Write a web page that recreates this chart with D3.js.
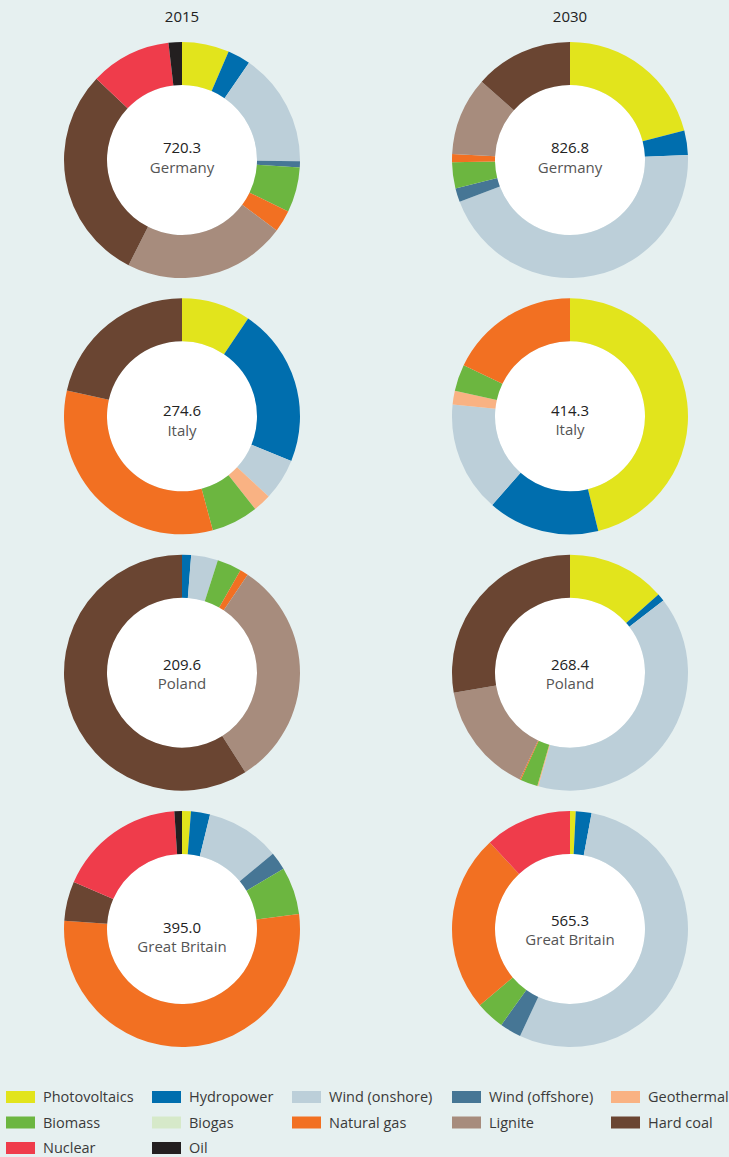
<!DOCTYPE html>
<html>
<head>
<meta charset="utf-8">
<script src="https://cdn.jsdelivr.net/npm/d3@7"></script>
<style>
  html, body { margin: 0; padding: 0; background: #e6f0f0; }
  svg { display: block; font-family: "Open Sans", sans-serif; }
</style>
</head>
<body>
<svg id="chart" width="729" height="1157"></svg>
<script>
// energy sources, clockwise order from 12 o'clock
const sources = ['Photovoltaics', 'Hydropower', 'Wind (onshore)', 'Wind (offshore)', 'Geothermal',
                 'Biomass', 'Biogas', 'Natural gas', 'Lignite', 'Hard coal', 'Nuclear', 'Oil'];
const years = ['2015', '2030'];
const countries = ['Germany', 'Italy', 'Poland', 'Great Britain'];
const totals2015 = ['720.3', '274.6', '209.6', '395.0'];
const totals2030 = ['826.8', '414.3', '268.4', '565.3'];

// generation per source (TWh), same order as sources
const germany2015 = [46.6, 22.6, 112.0, 6.2, 0, 44.4, 0, 21.6, 160.7, 213.3, 79.8, 13.2];
const germany2030 = [173.6, 27.6, 371.4, 15.6, 0, 29.4, 0, 9.2, 88.9, 111.2, 0, 0];
const italy2015   = [26.0, 59.6, 15.7, 0, 6.8, 17.7, 0, 89.9, 0, 59.0, 0, 0];
const italy2030   = [191.2, 63.4, 62.7, 0, 7.9, 15.1, 0, 74.0, 0, 0, 0, 0];
const poland2015  = [0, 2.6, 7.7, 0, 0, 7.0, 0, 2.4, 66.2, 123.7, 0, 0];
const poland2030  = [36.2, 2.8, 106.8, 0, 0.4, 6.4, 0, 0.4, 41.0, 74.4, 0, 0];
const britain2015 = [4.8, 10.3, 40.2, 9.8, 0, 25.7, 0, 209.9, 0, 21.4, 68.9, 4.1];
const britain2030 = [4.4, 12.2, 305.3, 16.6, 0, 22.3, 0, 137.2, 0, 0, 67.2, 0];

const values2015 = [germany2015, italy2015, poland2015, britain2015];
const values2030 = [germany2030, italy2030, poland2030, britain2030];

const palette = ['#e2e41c', '#006eae', '#bccfd9', '#467695', '#f9b283',
                 '#6cb640', '#d6e9c9', '#f27022', '#a78c7d', '#6a4532', '#ef3c4b', '#231f20'];

const svg = d3.select('#chart');

const color = d3.scaleOrdinal().domain(sources).range(palette);
const x = d3.scalePoint().domain(years).range([182, 570]);
const y = d3.scalePoint().domain(countries).range([160, 929]);

const rOuter = 118, rInner = 75;
const arc = d3.arc().innerRadius(rInner).outerRadius(rOuter);
const pie = d3.pie().sort(null).value(d => d.value);

// small per-chart text shifts [number baseline, name baseline]
const textDy = {
  'Germany': [[-7, 13], [-7, 13]],
  'Italy': [[0, 20], [0, 19]],
  'Poland': [[-3, 16], [-3, 16]],
  'Great Britain': [[4, 23], [-3, 16]]
};

svg.selectAll('text.year')
  .data(years)
  .join('text')
  .attr('class', 'year')
  .attr('x', d => x(d))
  .attr('y', 22)
  .attr('text-anchor', 'middle')
  .attr('font-size', 15)
  .attr('fill', '#222')
  .text(d => d);

const charts = [];
countries.forEach((c, i) => {
  charts.push({country: c, year: '2015', total: totals2015[i], values: values2015[i], col: 0});
  charts.push({country: c, year: '2030', total: totals2030[i], values: values2030[i], col: 1});
});

const g = svg.selectAll('g.donut')
  .data(charts)
  .join('g')
  .attr('class', 'donut')
  .attr('transform', d => `translate(${x(d.year)},${y(d.country)})`);

g.append('circle')
  .attr('r', rInner)
  .attr('fill', '#fff');

g.selectAll('path')
  .data(d => pie(sources.map((s, k) => ({source: s, value: d.values[k]}))).filter(a => a.data.value > 0))
  .join('path')
  .attr('d', arc)
  .attr('fill', a => color(a.data.source));

g.append('text')
  .attr('text-anchor', 'middle')
  .attr('y', d => textDy[d.country][d.col][0])
  .attr('font-size', 15)
  .attr('fill', '#222')
  .text(d => d.total);

g.append('text')
  .attr('text-anchor', 'middle')
  .attr('y', d => textDy[d.country][d.col][1])
  .attr('font-size', 15)
  .attr('fill', '#555')
  .text(d => d.country);

// legend, five per row
const legendX = [6, 152, 292, 452, 611];
const legend = svg.append('g')
  .selectAll('g')
  .data(sources)
  .join('g')
  .attr('transform', (d, i) => `translate(${legendX[i % 5]},${1091 + Math.floor(i / 5) * 25.5})`);

legend.append('rect')
  .attr('width', 29)
  .attr('height', 12)
  .attr('fill', d => color(d));

legend.append('text')
  .attr('x', 37)
  .attr('y', 6)
  .attr('dy', '0.35em')
  .attr('font-size', 14.5)
  .attr('fill', '#3a3a3a')
  .text(d => d);
</script>
</body>
</html>
